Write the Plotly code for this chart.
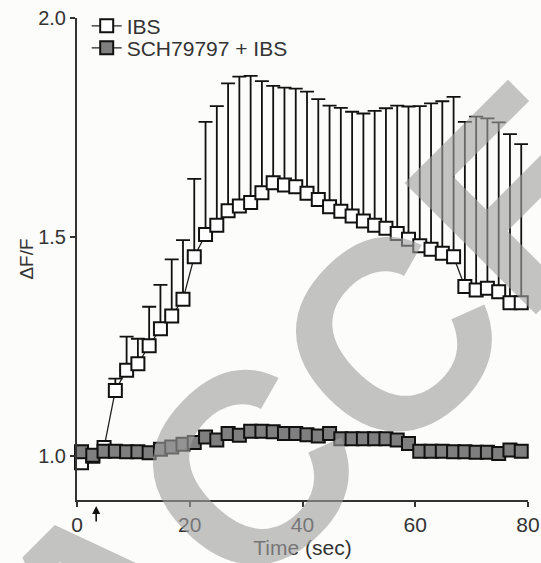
import plotly.graph_objects as go

time_s = [0.8, 2.8, 4.8, 6.8, 8.8, 10.8, 12.8, 14.8, 16.8, 18.8,
          20.8, 22.8, 24.8, 26.8, 28.8, 30.8, 32.8, 34.8, 36.8, 38.8,
          40.8, 42.8, 44.8, 46.8, 48.8, 50.8, 52.8, 54.8, 56.8, 58.8,
          60.8, 62.8, 64.8, 66.8, 68.8, 70.8, 72.8, 74.8, 76.8, 78.8]

ibs = [0.985, 1.000, 1.020, 1.150, 1.196, 1.211, 1.252, 1.291, 1.320, 1.358,
       1.455, 1.506, 1.527, 1.560, 1.571, 1.579, 1.601, 1.624, 1.619, 1.615,
       1.600, 1.586, 1.569, 1.559, 1.548, 1.537, 1.527, 1.520, 1.508, 1.495,
       1.480, 1.472, 1.463, 1.455, 1.387, 1.379, 1.383, 1.375, 1.350, 1.350]

ibs_top = [0.985, 1.000, 1.020, 1.177, 1.273, 1.268, 1.341, 1.391, 1.449, 1.493,
           1.633, 1.763, 1.799, 1.851, 1.866, 1.868, 1.856, 1.845, 1.841, 1.839,
           1.832, 1.815, 1.800, 1.795, 1.786, 1.782, 1.788, 1.794, 1.800, 1.798,
           1.799, 1.805, 1.810, 1.820, 1.763, 1.775, 1.771, 1.762, 1.735, 1.712]

sch_ibs = [1.010, 1.002, 1.011, 1.011, 1.010, 1.010, 1.008, 1.016, 1.021, 1.027,
           1.031, 1.044, 1.037, 1.052, 1.048, 1.057, 1.057, 1.056, 1.052, 1.052,
           1.049, 1.046, 1.052, 1.040, 1.040, 1.040, 1.040, 1.040, 1.037, 1.029,
           1.011, 1.011, 1.011, 1.010, 1.010, 1.009, 1.009, 1.006, 1.014, 1.011]

ibs_err = [t - v for t, v in zip(ibs_top, ibs)]

x_ticks = [0, 20, 40, 60, 80]
y_ticks = [1.0, 1.5, 2.0]
y_tick_text = ["1.0", "1.5", "2.0"]
arrow_time = 3.4

watermark_letters = ["A", "C", "C", "E"]
watermark_px = [(104, 606), (248, 471), (391, 338), (521, 198)]

FONT = "Liberation Sans, Arial, sans-serif"
TXT = "#333333"

fig = go.Figure()
fig.add_trace(go.Scatter(
    x=time_s, y=ibs, name="IBS", mode="lines+markers", legend="legend",
    line=dict(color="#222222", width=1.3),
    marker=dict(symbol="square", size=13, color="white",
                line=dict(color="#111111", width=2)),
    error_y=dict(type="data", symmetric=False, array=ibs_err,
                 arrayminus=[0] * len(ibs_err), color="#111111",
                 thickness=1.8, width=7),
    cliponaxis=False,
))
fig.add_trace(go.Scatter(
    x=time_s, y=sch_ibs, name="SCH79797 + IBS", mode="lines+markers", legend="legend2",
    line=dict(color="#222222", width=1.3),
    marker=dict(symbol="square", size=13, color="#7f7f7f",
                line=dict(color="#111111", width=2)),
    cliponaxis=False,
))

W, H = 541, 563
L, R, T, B = 77.3, 528.3, 18.3, 500.0

def px_to_paper(px, py):
    return (px - L) / (R - L), (B - py) / (B - T)

annotations = [dict(
    x=arrow_time, y=-6 / (B - T), xref="x", yref="paper",
    ax=0, ay=17, axref="pixel", ayref="pixel", text="",
    showarrow=True, arrowhead=2, arrowsize=1, arrowwidth=1.6,
    arrowcolor="#111111",
)]
for letter, (px, py) in zip(watermark_letters, watermark_px):
    xp, yp = px_to_paper(px, py)
    annotations.append(dict(
        x=xp, y=yp, xref="paper", yref="paper", text=letter,
        showarrow=False, textangle=-45, xanchor="center", yanchor="middle",
        font=dict(family=FONT, size=270, color="rgba(160,160,160,0.62)",
                  weight="bold"),
    ))

legend_common = dict(xanchor="left", yanchor="top", bgcolor="rgba(0,0,0,0)",
                     font=dict(size=21, color=TXT), itemwidth=30)
lx, _ = px_to_paper(87, 0)
_, ly1 = px_to_paper(0, 6)
_, ly2 = px_to_paper(0, 28)

fig.update_layout(
    width=W, height=H,
    margin=dict(l=L, r=W - R, t=T, b=H - B, pad=0, autoexpand=False),
    paper_bgcolor="#fcfcfa", plot_bgcolor="#fcfcfa",
    font=dict(family=FONT, color=TXT, size=19),
    showlegend=True,
    legend=dict(x=lx, y=ly1, **legend_common),
    legend2=dict(x=lx, y=ly2, **legend_common),
    xaxis=dict(range=[0, 80], tickvals=x_ticks, showgrid=False, zeroline=False,
               showline=True, linecolor="#333333", linewidth=2,
               ticks="outside", ticklen=5, tickwidth=2, tickcolor="#333333",
               tickfont=dict(size=21, color=TXT),
               title=dict(text="Time (sec)", font=dict(size=21, color=TXT), standoff=4)),
    yaxis=dict(range=[0.9, 2.0], tickvals=y_ticks, ticktext=y_tick_text,
               showgrid=False, zeroline=False,
               showline=True, linecolor="#333333", linewidth=2,
               ticks="outside", ticklen=5, tickwidth=2, tickcolor="#333333",
               tickfont=dict(size=20, color=TXT),
               title=dict(text="ΔF/F", font=dict(size=19, color=TXT), standoff=0)),
    annotations=annotations,
)

fig.write_html("out.html", config={"displayModeBar": False},
               post_script="document.body.style.margin='0';document.body.style.background='#fcfcfa';")
